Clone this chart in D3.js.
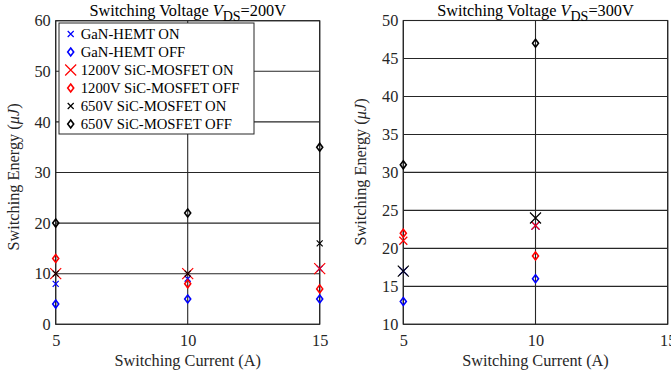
<!DOCTYPE html>
<html><head><meta charset="utf-8">
<script src="https://cdn.jsdelivr.net/npm/d3@7"></script>
<style>body{margin:0;background:#fff}svg{display:block;font-family:"Liberation Serif","Times New Roman",serif}</style>
</head><body><svg id="c" width="671" height="379"></svg>
<script>
// ---- data ----
const seriesNames = ["GaN-HEMT ON","GaN-HEMT OFF","1200V SiC-MOSFET ON","1200V SiC-MOSFET OFF","650V SiC-MOSFET ON","650V SiC-MOSFET OFF"];
const current200 = [5, 10, 15];
const ganOn200 = [8, 9, 11];
const ganOff200 = [4, 5, 5];
const sic1200On200 = [10, 10, 11];
const sic1200Off200 = [13, 8, 7];
const sic650On200 = [10, 10, 16];
const sic650Off200 = [20, 22, 35];
const current300 = [5, 10];
const ganOn300 = [17, 23];
const ganOff300 = [13, 16];
const sic1200On300 = [21, 23];
const sic1200Off300 = [22, 19];
const sic650On300 = [17, 24];
const sic650Off300 = [31, 47];
const xTicks = [5, 10, 15];
const yTicks200 = [0, 10, 20, 30, 40, 50, 60];
const yTicks300 = [10, 15, 20, 25, 30, 35, 40, 45, 50];

const svg = d3.select("#c");
const colors = ["#0000ff","#0000ff","#ff0000","#ff0000","#000000","#000000"];
const shapes = ["x","d","x","d","x","d"];
const FS = 16.3;

function markerPath(shape, size){
  if(shape==="x"){ const s=size/2; return `M${-s},${-s}L${s},${s}M${-s},${s}L${s},${-s}`; }
  return "M0,-4L3,0L0,4L-3,0Z";
}

function panel(opts){
  const {x0,x1,y0,y1,yDomain,yTicks,xs,data,sizes,vds,ylabY} = opts;
  const g = svg.append("g");
  const x = d3.scaleLinear().domain([5,15]).range([x0,x1]);
  const y = d3.scaleLinear().domain(yDomain).range([y1,y0]);
  g.selectAll(".gy").data(yTicks).join("line")
    .attr("x1",x0).attr("x2",x1).attr("y1",d=>y(d)).attr("y2",d=>y(d))
    .attr("stroke","#262626").attr("stroke-width",1.1);
  g.selectAll(".gx").data(xTicks).join("line")
    .attr("x1",d=>x(d)).attr("x2",d=>x(d)).attr("y1",y0).attr("y2",y1)
    .attr("stroke","#262626").attr("stroke-width",1.1);
  g.append("rect").attr("x",x0).attr("y",y0).attr("width",x1-x0).attr("height",y1-y0)
    .attr("fill","none").attr("stroke","#262626").attr("stroke-width",1.1);
  const ax = g.append("g").attr("transform",`translate(0,${y1})`)
    .call(d3.axisBottom(x).tickValues(xTicks).tickSize(0).tickPadding(10).tickFormat(d3.format("d")));
  ax.select(".domain").remove();
  ax.selectAll("text").attr("font-size",FS).attr("fill","#262626").attr("font-family","Liberation Serif");
  const ay = g.append("g").attr("transform",`translate(${x0},0)`)
    .call(d3.axisLeft(y).tickValues(yTicks).tickSize(0).tickPadding(5).tickFormat(d3.format("d")));
  ay.select(".domain").remove();
  ay.selectAll("text").attr("font-size",FS).attr("fill","#262626").attr("font-family","Liberation Serif");
  data.forEach((vals,i)=>{
    g.selectAll(null).data(vals).join("path")
      .attr("transform",(d,j)=>`translate(${x(xs[j])},${y(d)})`)
      .attr("d",markerPath(shapes[i],sizes[i]))
      .attr("fill","none").attr("stroke",colors[i])
      .attr("stroke-width",shapes[i]==="x"?1.2:1.6);
  });
  const t = g.append("text").attr("x",(x0+x1)/2).attr("y",16).attr("text-anchor","middle")
    .attr("font-size",FS).attr("fill","#000");
  t.append("tspan").text("Switching Voltage ");
  t.append("tspan").attr("font-style","italic").text("V");
  t.append("tspan").attr("font-size",14).attr("dy",4.5).text("DS");
  t.append("tspan").attr("dy",-4.5).text("="+vds);
  g.append("text").attr("x",(x0+x1)/2).attr("y",366).attr("text-anchor","middle")
    .attr("font-size",FS).attr("fill","#262626").text("Switching Current (A)");
  const yl = g.append("text").attr("transform",`translate(${x0-37},${ylabY}) rotate(-90)`)
    .attr("text-anchor","middle").attr("font-size",FS).attr("fill","#262626");
  yl.append("tspan").text("Switching Energy (");
  yl.append("tspan").attr("font-style","italic").text("μJ");
  yl.append("tspan").text(")");
  return g;
}

panel({x0:55.7,x1:319.7,y0:20.7,y1:324.3,yDomain:[0,60],yTicks:yTicks200,xs:current200,
  data:[ganOn200,ganOff200,sic1200On200,sic1200Off200,sic650On200,sic650Off200],
  sizes:[6,0,11,0,6,0],vds:"200V",ylabY:177});
panel({x0:403.3,x1:667.7,y0:20.5,y1:324.3,yDomain:[10,50],yTicks:yTicks300,xs:current300,
  data:[ganOn300,ganOff300,sic1200On300,sic1200Off300,sic650On300,sic650Off300],
  sizes:[8,0,8,0,11,0],vds:"300V",ylabY:172});

const lg = svg.append("g");
lg.append("rect").attr("x",59).attr("y",23).attr("width",195).attr("height",111)
  .attr("fill","#fff").attr("stroke","#262626").attr("stroke-width",1);
const legSizes = [6,0,11,0,6,0];
seriesNames.forEach((n,i)=>{
  const cy = 34 + i*18;
  lg.append("path").attr("transform",`translate(70.7,${cy})`).attr("d",markerPath(shapes[i],legSizes[i]))
    .attr("fill","none").attr("stroke",colors[i]).attr("stroke-width",shapes[i]==="x"?1.2:1.6);
  lg.append("text").attr("x",80.7).attr("y",cy).attr("dy","0.35em").attr("font-size",14.7)
    .attr("fill","#000").text(n);
});
</script></body></html>
